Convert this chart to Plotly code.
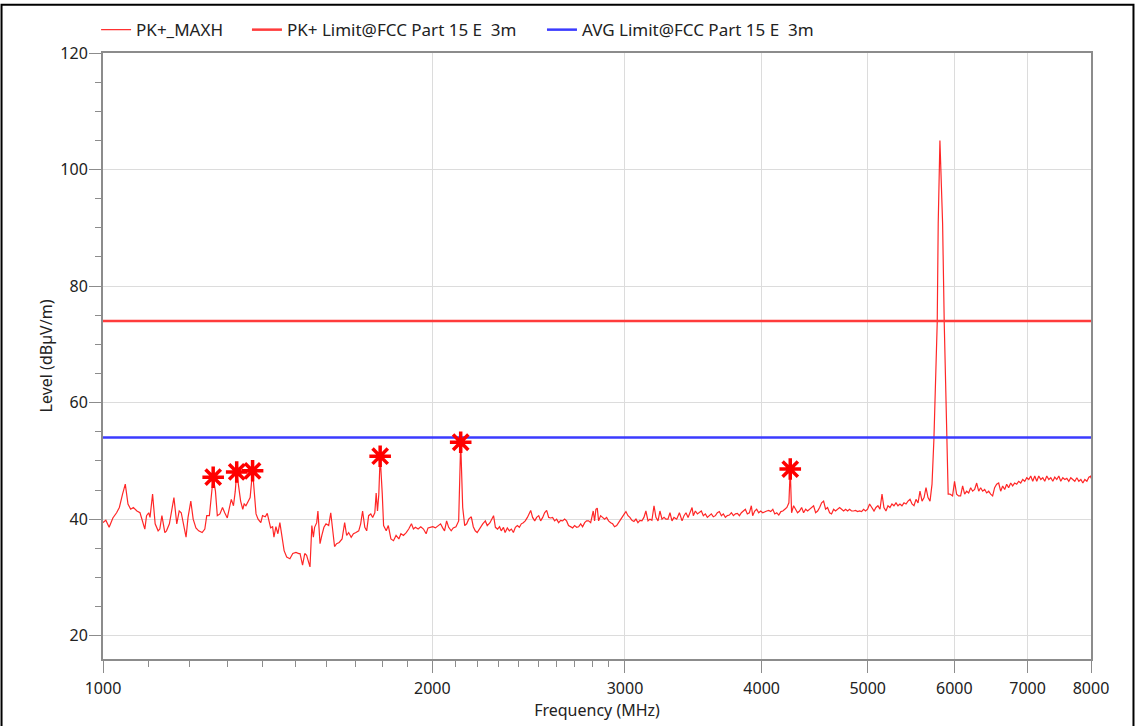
import plotly.graph_objects as go

# ---------------- data ----------------
# PK+_MAXH sweep, split into frequency bands (MHz) and levels (dBuV/m)
freq_a = [1000,1006,1013,1021,1029,1035,1042,1048,1054,1060,1066,1074,1081,1087,1092,1096,1101,1104,1110,1116,
          1123,1127,1132,1139,1143,1150,1156,1161,1168,1174,1179,1186,1191,1196,1203,1209,1216,1223,1232,1239,
          1244,1251,1256,1261,1267,1272,1279,1286,1292,1299,1305,1310,1316,1321,1325,1331,1336,1342,1346,1351,
          1357,1363,1370,1374,1380,1386,1394,1399,1407,1413,1419,1423,1429,1433,1439,1445,1451,1458,1464,1472,
          1482,1491,1501,1510]
level_a = [39.4,39.8,38.6,40.2,41.1,42.0,44.3,46.0,42.6,41.7,42.0,41.4,41.1,39.7,38.3,40.6,41.1,40.3,44.3,39.2,
           38.0,38.3,40.6,37.7,38.0,39.2,41.7,43.7,39.2,41.4,41.1,38.6,36.9,40.3,43.1,40.0,38.5,38.0,37.7,38.3,
           40.6,40.6,44.3,47.2,44.8,40.6,40.9,42.0,41.1,40.2,42.0,43.4,42.3,44.8,48.1,45.4,43.1,41.7,42.6,42.3,
           43.1,43.7,48.3,44.8,40.9,40.0,39.4,40.6,40.4,41.0,39.4,38.5,38.7,36.9,38.7,37.5,39.4,36.9,34.6,33.5,
           33.2,34.1,34.3,34.1]

freq_b = [1514,1522,1529,1535,1541,1546,1552,1557,1561,1568,1572,1579,1585,1592,1599,1608,1615,1621,1628,1635,
          1644,1654,1663,1670,1677,1686,1694,1703,1713,1720,1727,1735,1742,1749,1757,1764,1772,1777,1782,1787,
          1792,1800,1805,1815,1823,1833,1843,1853,1864,1872,1882,1893,1903,1914,1922,1930,1941,1952,1963,1974,
          1982,1991,2002,2013,2024,2035,2044,2052,2061,2070,2081,2090,2102,2114,2123,2132,2141,2150,2159,2171,
          2180,2189,2198,2211,2224,2236,2245,2258]
level_b = [34.1,32.1,34.1,33.8,32.4,31.8,38.9,36.9,38.6,39.4,41.4,35.8,37.2,38.6,39.2,38.9,41.1,38.6,35.3,35.8,
           36.0,36.6,39.4,37.2,37.7,36.9,37.5,37.7,38.0,39.2,41.4,38.6,38.0,40.6,40.9,40.3,41.1,44.5,41.4,44.3,
           50.8,44.3,38.9,38.0,38.9,36.6,36.3,37.2,36.6,37.5,37.2,37.7,38.3,39.2,38.3,38.6,38.3,38.7,38.3,37.5,
           38.5,38.6,38.7,38.5,38.9,39.2,38.5,38.0,39.7,38.6,38.0,38.5,38.7,39.7,53.2,42.0,38.9,39.2,40.0,40.4,
           38.7,38.0,37.7,38.5,39.2,39.7,38.9,39.4]

freq_c = [2268,2275,2284,2294,2304,2312,2323,2331,2342,2352,2362,2372,2382,2392,2402,2412,2422,2432,2443,2453,
          2460,2470,2481,2491,2502,2512,2523,2533,2544,2555,2565,2576,2587,2598,2609,2620,2631,2642,2653,2664,
          2676,2687,2698,2710,2721,2733,2744,2756,2767,2779,2791,2798,2806,2814,2822,2830,2838,2850,2862,2874,
          2886,2898,2911,2923,2935,2948,2960,2973,2985,2998,3006,3019,3031,3044,3057,3070,3083,3096,3109,3122,
          3135,3149,3162,3175,3189,3202,3216,3229,3243,3257,3270,3284,3298,3312,3326,3345,3364]
level_c = [40.3,40.6,38.6,38.3,38.7,38.0,38.6,37.7,38.5,38.0,38.3,37.7,38.6,38.9,38.6,39.2,39.4,39.7,40.3,41.1,
           41.5,40.3,39.7,40.3,40.6,39.7,40.3,41.1,41.5,40.3,40.2,40.3,39.7,40.0,39.4,39.8,39.7,40.0,39.7,38.9,
           38.7,38.5,38.9,38.6,38.7,39.2,38.7,39.4,39.7,39.7,39.4,40.3,41.4,39.7,41.7,41.9,39.7,40.6,40.3,40.0,
           40.3,39.7,39.4,39.2,38.7,38.9,39.4,40.0,40.6,41.0,41.3,40.6,40.3,39.8,39.6,40.0,39.4,39.8,39.7,40.3,
           41.4,39.7,40.0,39.8,42.3,40.3,39.7,41.4,40.0,40.3,40.0,40.0,41.1,39.7,40.3,40.0,41.1]

freq_d = [3383,3397,3411,3426,3440,3455,3464,3479,3494,3508,3523,3538,3553,3568,3583,3598,3613,3629,3644,3659,
          3675,3690,3706,3721,3737,3753,3769,3785,3801,3817,3833,3849,3865,3881,3898,3914,3925,3942,3958,3975,
          3992,4009,4026,4043,4060,4077,4095,4112,4129,4147,4165,4182,4200,4218,4236,4248,4260,4278,4296,4314,
          4332,4351,4369,4388,4406,4425,4443,4462,4481,4500,4519,4538,4557,4576,4595,4615,4634,4654,4673,4693,
          4713,4733,4753,4773,4793,4813,4833,4853,4874,4895,4915,4936,4957,4978,4999,5020]
level_d = [39.7,40.6,41.1,40.3,41.1,42.0,40.6,41.4,40.9,41.1,41.4,40.6,40.9,40.3,40.6,40.9,40.4,40.6,41.1,41.3,
           40.6,40.9,40.3,40.6,40.7,41.1,40.6,40.9,41.0,40.6,41.1,41.4,41.7,40.9,41.1,42.3,40.6,41.4,41.7,41.1,
           41.4,41.1,41.3,41.4,41.5,41.3,41.7,40.9,41.1,40.7,41.3,41.4,41.7,42.0,42.8,48.6,41.1,42.3,41.7,41.1,
           41.4,42.0,41.1,41.7,41.4,41.7,42.0,42.3,41.1,41.4,42.0,42.8,43.1,41.7,42.0,41.1,40.9,41.7,41.4,41.7,
           42.0,41.7,41.4,41.7,41.4,41.7,41.4,41.4,41.5,41.3,41.4,41.3,41.7,41.4,41.7,42.6]

freq_e = [5045,5067,5088,5109,5131,5153,5174,5196,5218,5240,5262,5284,5307,5329,5351,5374,5397,5420,5443,5466,
          5489,5512,5535,5559,5582,5606,5630,5653,5677,5701,5725]
level_e = [42.0,41.4,42.0,42.3,41.7,44.3,42.0,41.4,42.3,42.0,42.6,42.3,42.8,42.3,42.6,42.3,42.8,42.6,43.1,43.4,
           42.6,42.3,43.4,42.8,44.8,43.1,43.7,45.4,43.7,43.1,46.0]

freq_peak = [5748,5788,5800,5821,5854,5874,5903,5923]
level_peak = [53.8,73.7,90.7,105.0,90.7,73.7,53.8,44.3]

freq_f = [5945,5978,6003,6029,6054,6080,6106,6132,6158,6184,6210,6236,6262,6289,6316,6342,6369,6396,6423,6450,
          6477,6504,6531,6559,6587,6615,6643,6671,6699,6727,6756,6784,6813,6842,6871,6900,6929,6959,6988,7018,
          7047,7077,7107,7137,7167,7198,7228,7258,7289,7320,7351,7382,7413,7444,7476,7507,7539,7571,7603,7635,
          7667,7700,7732,7765,7798,7831,7864,7897,7931,7964,7998,8000]
level_f = [44.3,44.0,46.5,44.3,44.0,44.0,45.7,44.3,44.8,44.5,45.4,44.8,45.1,46.2,44.8,45.4,44.8,45.1,44.5,44.8,
           44.3,44.0,45.4,46.0,46.2,44.8,45.7,45.1,46.0,45.4,46.2,45.7,46.2,46.0,46.5,46.2,46.8,46.5,47.1,46.8,
           47.4,46.5,47.4,46.5,47.4,46.8,47.1,46.5,47.4,46.8,47.1,46.5,47.2,46.8,47.4,46.5,47.1,46.8,47.0,46.5,
           47.1,46.8,46.5,47.1,46.5,46.8,46.2,46.8,46.5,47.2,47.4,47.0]

# Limit lines
limit_freq = [1000, 8000]
pk_limit = [74, 74]
avg_limit = [54, 54]

# Marked peaks
marker_freq = [1261, 1325, 1370, 1792, 2123, 4248]
marker_level = [47.2, 48.1, 48.3, 50.8, 53.2, 48.6]

# Axis ticks
x_ticks = [1000, 2000, 3000, 4000, 5000, 6000, 7000, 8000]
x_minor = [1100, 1200, 1300, 1400, 1500, 1600, 1700, 1800, 1900,
           2100, 2200, 2300, 2400, 2500, 2600, 2700, 2800, 2900]

# ---------------- assemble ----------------
freq, level = [], []
for fs, ls in [(freq_a, level_a), (freq_b, level_b), (freq_c, level_c), (freq_d, level_d),
               (freq_e, level_e), (freq_peak, level_peak), (freq_f, level_f)]:
    n = min(len(fs), len(ls))
    freq += fs[:n]
    level += ls[:n]

FONT = "Noto Sans, Open Sans, sans-serif"
TXT = "#222222"
AX = "#8c8c8c"
GRID = "#dcdcdc"

fig = go.Figure()
fig.add_trace(go.Scatter(x=freq, y=level, mode="lines", name="PK+_MAXH",
                         line=dict(color="rgba(255,0,0,0.85)", width=1.2), legend="legend"))
fig.add_trace(go.Scatter(x=limit_freq, y=pk_limit, mode="lines", name="PK+ Limit@FCC Part 15 E\u00a0 3m",
                         line=dict(color="#ff3b3b", width=2.5), legend="legend2"))
fig.add_trace(go.Scatter(x=limit_freq, y=avg_limit, mode="lines", name="AVG Limit@FCC Part 15 E\u00a0 3m",
                         line=dict(color="#3b3bff", width=2.5), legend="legend3"))
fig.add_trace(go.Scatter(x=marker_freq, y=marker_level, mode="markers", showlegend=False,
                         marker=dict(symbol="asterisk-open", size=18, color="#ff0000",
                                     line=dict(color="#ff0000", width=3.5))))

leg_common = dict(orientation="h", yanchor="middle", y=1.0378, xanchor="left",
                  font=dict(family=FONT, size=17, color=TXT), bgcolor="rgba(0,0,0,0)")
fig.update_layout(
    width=1135, height=726,
    margin=dict(l=103, r=44, t=50, b=67),
    paper_bgcolor="white", plot_bgcolor="white",
    font=dict(family=FONT, size=16, color=TXT),
    legend=dict(x=-0.007, **leg_common),
    legend2=dict(x=0.1457, **leg_common),
    legend3=dict(x=0.4443, **leg_common),
    xaxis=dict(type="log", range=[3, 3.90309], tickvals=x_ticks, ticktext=[str(v) for v in x_ticks],
               ticks="outside", ticklen=12, tickcolor=AX, tickwidth=1, ticklabelstandoff=2,
               showgrid=True, gridcolor=GRID, gridwidth=1,
               showline=True, linecolor=AX, linewidth=2, mirror=True, zeroline=False,
               minor=dict(tickvals=x_minor, ticks="outside", ticklen=6, tickcolor=AX, showgrid=False),
               tickfont=dict(family=FONT, size=16, color=TXT),
               title=dict(text="Frequency (MHz)", font=dict(family=FONT, size=16, color=TXT), standoff=1)),
    yaxis=dict(range=[16, 120], tickvals=[20, 40, 60, 80, 100, 120],
               ticks="outside", ticklen=12, tickcolor=AX, tickwidth=1, ticklabelstandoff=-2,
               showgrid=True, gridcolor=GRID, gridwidth=1,
               showline=True, linecolor=AX, linewidth=2, mirror=True, zeroline=False,
               minor=dict(dtick=5, tick0=0, ticks="outside", ticklen=6, tickcolor=AX, showgrid=False),
               tickfont=dict(family=FONT, size=16, color=TXT),
               title=dict(text="Level (dBµV/m)", font=dict(family=FONT, size=16, color=TXT), standoff=4)),
    shapes=[dict(type="rect", xref="paper", yref="paper", x0=-0.1027, x1=1.0430, y0=-0.2, y1=1.0796,
                 line=dict(color="black", width=2), fillcolor="rgba(0,0,0,0)", layer="above")],
)

fig.write_html("out.html", config={"displayModeBar": False},
               post_script="document.body.style.margin='0';document.documentElement.style.overflow='hidden';")
